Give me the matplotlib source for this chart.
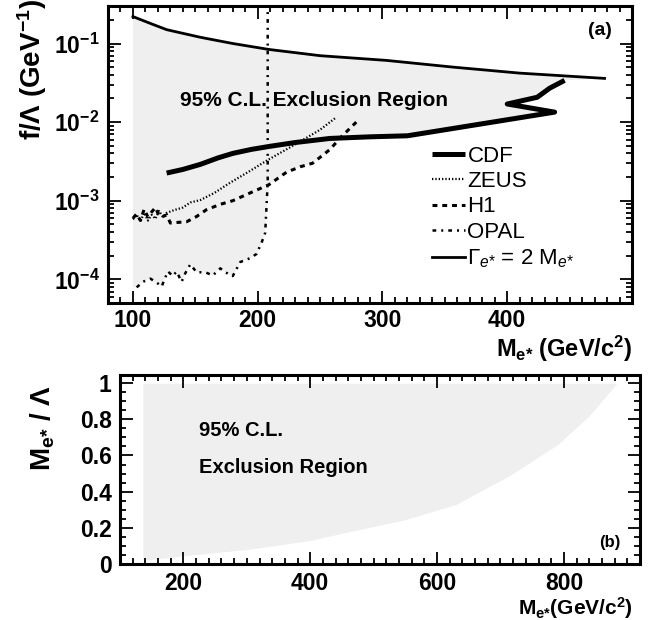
import numpy as np
import matplotlib
matplotlib.use("Agg")
import matplotlib.pyplot as plt
from matplotlib.ticker import FixedLocator, MultipleLocator, NullFormatter, FixedFormatter, LogLocator

plt.rcParams['font.family'] = ['Liberation Sans', 'DejaVu Sans']
plt.rcParams['mathtext.fontset'] = 'custom'
plt.rcParams['mathtext.rm'] = 'Liberation Sans'
plt.rcParams['mathtext.bf'] = 'Liberation Sans:bold'
plt.rcParams['mathtext.it'] = 'Liberation Sans:italic'

# --- panel (a): f/Lambda limits vs M_e* ---
gam_m = [100, 114, 127, 154, 180, 209, 250, 303, 357, 410, 478]
gam_f = [0.22, 0.18, 0.15, 0.12, 0.10, 0.084, 0.07, 0.061, 0.050, 0.042, 0.036]

cdf_m = [127, 140, 154, 168, 180, 195, 209, 230, 258, 290, 320, 438, 400, 424, 434, 446]
cdf_f = [2.25e-3, 2.5e-3, 2.9e-3, 3.5e-3, 4.0e-3, 4.5e-3, 4.9e-3, 5.5e-3, 6.2e-3,
         6.5e-3, 6.7e-3, 1.34e-2, 1.7e-2, 2.07e-2, 2.7e-2, 3.4e-2]

zeus_m = [100, 103, 106, 109, 112, 115, 118, 121, 124, 127, 133, 140, 146, 154, 165,
          178, 192, 208, 222, 239, 250, 262]
zeus_f = [5.8e-4, 6.6e-4, 5.5e-4, 7.0e-4, 5.6e-4, 6.6e-4, 5.9e-4, 7.4e-4, 6.2e-4, 7.0e-4,
          7.6e-4, 8.2e-4, 9.5e-4, 1.02e-3, 1.25e-3, 1.7e-3, 2.3e-3, 3.3e-3, 4.4e-3,
          6.3e-3, 8.0e-3, 1.12e-2]

h1_m = [100, 103, 106, 109, 112, 115, 118, 121, 124, 127, 130, 136, 143, 151, 159, 170,
        180, 196, 209, 223, 234, 244, 258, 267, 279]
h1_f = [6.0e-4, 6.8e-4, 5.6e-4, 7.8e-4, 6.2e-4, 7.2e-4, 8.2e-4, 6.4e-4, 6.3e-4, 6.6e-4,
        5.2e-4, 5.3e-4, 5.4e-4, 6.3e-4, 7.7e-4, 9.0e-4, 1.0e-3, 1.3e-3, 1.6e-3, 2.3e-3,
        2.7e-3, 3.0e-3, 4.5e-3, 6.5e-3, 1.0e-2]

opal_m = [103, 108, 114, 119, 123, 128, 132, 135, 139, 142, 146, 151, 158, 164, 170, 174,
          180, 186, 194, 199, 203, 206, 208, 208]
opal_f = [7.9e-5, 9.3e-5, 1.02e-4, 9.1e-5, 8.1e-5, 1.26e-4, 1.1e-4, 1.26e-4, 9.3e-5,
          1.2e-4, 1.55e-4, 1.23e-4, 1.23e-4, 1.12e-4, 1.38e-4, 1.23e-4, 1.1e-4, 1.66e-4,
          1.86e-4, 2.1e-4, 2.9e-4, 3.9e-4, 1.7e-3, 1.0]

# --- panel (b): M_e*/Lambda excluded region ---
b_m = [136, 200, 300, 400, 450, 550, 630, 715, 790, 840, 884]
b_low = [0.02, 0.045, 0.08, 0.13, 0.17, 0.245, 0.33, 0.49, 0.66, 0.82, 1.0]

fig = plt.figure(figsize=(6.49, 6.20), dpi=100)
ax = fig.add_axes([108/649, 1-303/620, 524/649, 297/620])
ax2 = fig.add_axes([120/649, 1-564/620, 520/649, 189/620])

gray = '#efefef'

# exclusion region (a): Gamma line on top, lowest limit curves below
gm = np.array(gam_m); gf = np.array(gam_f)
cm = np.array(cdf_m); cf = np.array(cdf_f)
hm = np.array(h1_m); hf = np.array(h1_f)
om = np.array(opal_m); of = np.array(opal_f)
sel_c = cm > 267
sel_h = (hm >= 209) & (hm <= 267)
sel_o = of < 1e-3
poly_x = np.concatenate([gm, cm[sel_c][::-1], hm[sel_h][::-1], om[sel_o][::-1], [gm[0]]])
poly_y = np.concatenate([gf, cf[sel_c][::-1], hf[sel_h][::-1], of[sel_o][::-1], [of[0]]])
ax.fill(poly_x, poly_y, color=gray, lw=0, zorder=0)

ax.plot(cdf_m, cdf_f, color='black', lw=3.6, label='CDF', solid_capstyle='butt')
ax.plot(zeus_m, zeus_f, color='black', lw=1.6, ls=(0, (0.6, 0.9)), label='ZEUS')
ax.plot(h1_m, h1_f, color='black', lw=2.2, ls=(0, (1.6, 1.6)), label='H1')
ax.plot(opal_m, opal_f, color='black', lw=1.8, ls=(0, (1.5, 2.0, 0.8, 2.0)), label='OPAL')
ax.plot(gam_m, gam_f, color='black', lw=2.0, label=r'$\Gamma_{e{*}}$ = 2 M$_{e{*}}$')

ax.set_yscale('log')
ax.set_xlim(80, 500)
ax.set_ylim(5e-5, 0.3)
ax.xaxis.set_major_locator(FixedLocator([100, 200, 300, 400]))
ax.xaxis.set_minor_locator(MultipleLocator(10))
ax.yaxis.set_major_locator(FixedLocator([1e-4, 1e-3, 1e-2, 1e-1]))
ax.yaxis.set_major_formatter(FixedFormatter([r'$\mathbf{10^{-4}}$', r'$\mathbf{10^{-3}}$',
                                             r'$\mathbf{10^{-2}}$', r'$\mathbf{10^{-1}}$']))
ax.yaxis.set_minor_locator(LogLocator(subs=np.arange(2, 10)))
ax.yaxis.set_minor_formatter(NullFormatter())

ax.text(138, 0.019, '95% C.L. Exclusion Region', fontsize=15, fontweight='bold', va='center')
ax.text(0.939, 0.919, '(a)', transform=ax.transAxes, fontsize=14, fontweight='bold',
        ha='center', va='center')

leg = ax.legend(loc='upper left', bbox_to_anchor=(0.618, 0.53), frameon=False,
                fontsize=16, handlelength=1.5, handletextpad=0.1, labelspacing=0.2,
                borderpad=0, borderaxespad=0)

# exclusion region (b)
ax2.fill_between(b_m, b_low, 1.0, color=gray, lw=0, zorder=0)
ax2.set_xlim(100, 920)
ax2.set_ylim(0, 1.045)
ax2.xaxis.set_major_locator(FixedLocator([200, 400, 600, 800]))
ax2.xaxis.set_minor_locator(MultipleLocator(20))
ax2.yaxis.set_major_locator(FixedLocator([0, 0.2, 0.4, 0.6, 0.8, 1.0]))
ax2.yaxis.set_major_formatter(FixedFormatter(['0', '0.2', '0.4', '0.6', '0.8', '1']))
ax2.yaxis.set_minor_locator(MultipleLocator(0.05))

ax2.text(225, 0.74, '95% C.L.', fontsize=14.5, fontweight='bold', va='center')
ax2.text(225, 0.533, 'Exclusion Region', fontsize=14.5, fontweight='bold', va='center')
ax2.text(0.942, 0.116, '(b)', transform=ax2.transAxes, fontsize=12, fontweight='bold',
         ha='center', va='center')

for a in (ax, ax2):
    for s in a.spines.values():
        s.set_linewidth(2.2)
    a.tick_params(which='both', direction='in', top=True, right=True, width=1.3)
    a.tick_params(which='major', length=9, labelsize=16.5, pad=6)
    a.tick_params(which='minor', length=4.5)
    for lab in a.get_xticklabels() + a.get_yticklabels():
        lab.set_fontweight('bold')
ax.tick_params(axis='x', which='major', pad=4)

# axis titles
fig.text(32/649, 1-70/620, r'$\mathbf{f/\Lambda\ (GeV^{-1})}$', rotation=90,
         fontsize=20, ha='center', va='center')
fig.text(632/649, 1-349/620, r'$\mathbf{M_{e{*}}\ (GeV/c^{2})}$', fontsize=17,
         ha='right', va='center')
fig.text(43/649, 1-428/620, r'$\mathbf{M_{e{*}}\ /\ \Lambda}$', rotation=90,
         fontsize=20, ha='center', va='center')
fig.text(633/649, 1-608/620, r'$\mathbf{M_{e{*}}(GeV/c^{2})}$', fontsize=15,
         ha='right', va='center')

fig.savefig('out.png', dpi=100)
